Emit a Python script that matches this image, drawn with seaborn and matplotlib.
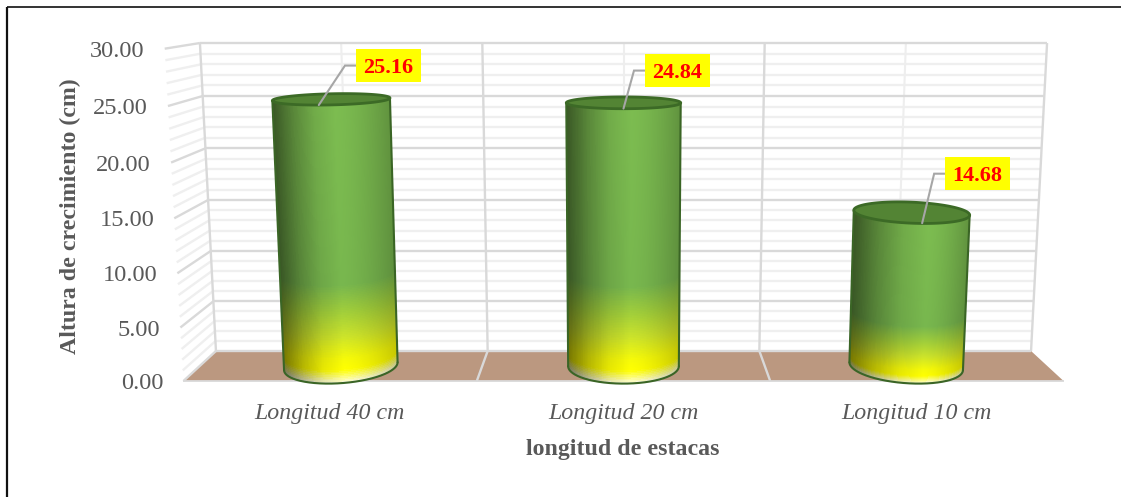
import numpy as np
import matplotlib
matplotlib.use("Agg")
import matplotlib.pyplot as plt
from matplotlib.colors import to_rgb
from matplotlib.patches import Polygon, Rectangle
import seaborn as sns

# Chart data
categories = ["Longitud 40 cm", "Longitud 20 cm", "Longitud 10 cm"]
heights = [25.16, 24.84, 14.68]
height_labels = ["25.16", "24.84", "14.68"]
y_ticks = [0, 5, 10, 15, 20, 25, 30]
y_title = "Altura de crecimiento (cm)"
x_title = "longitud de estacas"

sns.set_theme(style="white")
plt.rcParams["font.family"] = ["Liberation Serif", "DejaVu Serif"]

W, H = 1121, 497
Y_MAX = 30.0
TEXT_GREY = "#595959"
MAJOR = "#d9d9d9"
MINOR = "#efefef"

fig = plt.figure(figsize=(W / 100, H / 100), dpi=100, facecolor="white")
ax = fig.add_axes([0, 0, 1, 1])
ax.set_xlim(0, W)
ax.set_ylim(H, 0)
ax.axis("off")


def project(x, v, d):
    """Perspective view: x in category slots, v in data units, d from back wall (0) to front (1)."""
    x, v, d = np.asarray(x, float), np.asarray(v, float), np.asarray(d, float)
    w = 1 - 0.00126 * v - 0.0739 * d
    px = 623.5 + (x - 1.5) * 271.7 / w
    py = (351 - 10.32 * v + 1.85 * d) / w
    return px, py


def line3d(x, v, d, **kw):
    px, py = project(x, v, d)
    ax.plot(px, py, solid_capstyle="butt", solid_joinstyle="round", **kw)


# Outer frame of the chart area
ax.plot([6.5, 6.5], [H, 6.5], color="#111111", lw=1.6, solid_capstyle="butt")
ax.plot([6.5, W], [6.5, 6.5], color="#111111", lw=1.2, solid_capstyle="butt")

# Floor
fx, fy = project([0, 3, 3, 0], [0, 0, 0, 0], [0, 0, 1, 1])
ax.add_patch(Polygon(np.c_[fx, fy], closed=True, fc="#bb9880", ec="none", zorder=1))
line3d([0, 3], [0, 0], [1, 1], color=MAJOR, lw=1.3, zorder=1.5)

# Wall grid: one line per unit, heavier every five units
for v in range(0, 31):
    major = v % 5 == 0
    c, lw = (MAJOR, 1.7) if major else (MINOR, 1.7)
    z = 2.2 if major else 2
    line3d([0, 3], [v, v], [0, 0], color=c, lw=lw, zorder=z)
    line3d([0, 0], [v, v], [0, 1], color=c, lw=lw, zorder=z)

for x in (0.5, 1.5, 2.5):
    line3d([x, x], [0, Y_MAX], [0, 0], color="#eeeeee", lw=1.5, zorder=2.1)
for x in (0, 1, 2, 3):
    line3d([x, x], [0, Y_MAX], [0, 0], color=MAJOR, lw=1.7, zorder=2.3)
for x in (1, 2):
    line3d([x, x], [0, 0], [0, 1], color=MAJOR, lw=1.7, zorder=2.3)

# Value axis labels
for v in y_ticks:
    px, py = project(0, v, 1)
    ax.text(px - 20, py + 2.5, f"{v:.2f}", ha="right", va="center",
            fontsize=17.6, color=TEXT_GREY)

# Category labels and axis titles
for i, name in enumerate(categories):
    px, _ = project(i + 0.5, 0, 1)
    ax.text(px - 0.5, 414, name, ha="center", va="center", fontsize=17.2,
            style="italic", color=TEXT_GREY)
ax.text(623, 449, x_title, ha="center", va="center", fontsize=17.2,
        weight="bold", color=TEXT_GREY)
ax.text(70, 216.5, y_title, ha="center", va="center", rotation=90,
        fontsize=17.2, weight="bold", color=TEXT_GREY)

# Cylinder colouring: height ramp along the surface, horizontal light across it
ramp_pos = [0.0, 0.012, 0.05, 0.09, 0.17, 0.26, 0.36, 1.0]
ramp_col = np.array([to_rgb(c) for c in
                     ["#fbfbf0", "#fdfdb0", "#ffff00", "#f6fa08", "#cde42a", "#a2cf3a", "#78b74e", "#7cbc50"]])
shade_pal = np.array(sns.blend_palette(["#787878", "#b8b8b8", "#e8e8e8", "#ffffff"], n_colors=101))[:, 0]
RX, RD, DC = 0.196, 0.58, 0.5
light_centre = [0.53, 0.56, 0.64]
leader_start = [(-13, 6), (0, 6), (11, 11)]
label_offset = [(56.7, -33.5), (54, -32), (66.5, -38.5)]
BOX_W, BOX_H = 65, 33


def ramp(f):
    return np.stack([np.interp(f, ramp_pos, ramp_col[:, k]) for k in range(3)], axis=-1)


def shade(u, u0):
    left = shade_pal[np.clip((u / u0 * 100).astype(int), 0, 100)]
    right = 1 - 0.22 * ((u - u0) / (1 - u0)) ** 1.6
    return np.where(u < u0, left, right)


ANGLES = np.linspace(-0.7, np.pi + 0.7, 361)

for i, h in enumerate(heights):
    xc = i + 0.5
    levels = np.linspace(0, h, 161)
    cols = 181
    X, Y, U = [], [], []
    for v in levels:
        px, py = project(xc + RX * np.cos(ANGLES), v, DC + RD * np.sin(ANGLES))
        a, b = ANGLES[np.argmax(px)], ANGLES[np.argmin(px)]
        th = np.linspace(a, b, cols)
        qx, qy = project(xc + RX * np.cos(th), v, DC + RD * np.sin(th))
        X.append(qx)
        Y.append(qy)
        U.append((qx - qx.min()) / (qx.max() - qx.min()))
    X, Y, U = np.array(X), np.array(Y), np.array(U)
    F = (levels / h)[:, None] * np.ones((1, cols))
    cell_u = 0.25 * (U[:-1, :-1] + U[1:, :-1] + U[:-1, 1:] + U[1:, 1:])
    cell_f = 0.5 * (F[:-1, :-1] + F[1:, :-1])
    rgb = ramp(cell_f) * shade(cell_u, light_centre[i])[..., None]
    ax.pcolormesh(X, Y, np.clip(rgb, 0, 1), shading="flat", antialiased=False,
                  edgecolors="none", rasterized=True, zorder=3)

    # Body outline: both silhouettes and the front of the base
    outline = "#3a6525"
    ax.plot(X[0], Y[0], color=outline, lw=1.5, zorder=4)
    ax.plot(X[:, 0], Y[:, 0], color=outline, lw=1.5, zorder=4)
    ax.plot(X[:, -1], Y[:, -1], color=outline, lw=1.5, zorder=4)

    # Open top of the cylinder
    th = np.linspace(0, 2 * np.pi, 181)
    tx, ty = project(xc + RX * np.cos(th), h, DC + RD * np.sin(th))
    ax.add_patch(Polygon(np.c_[tx, ty], closed=True, fc="#538434", ec="#3c6a26",
                         lw=2.0, zorder=4.5))

    # Value label with its leader line
    cx, cy = project(xc, h, DC)
    bx, by = cx + label_offset[i][0], cy + label_offset[i][1]
    sx, sy = cx + leader_start[i][0], cy + leader_start[i][1]
    ax.plot([sx, bx - BOX_W / 2 - 11, bx - BOX_W / 2], [sy, by, by],
            color="#a6a6a6", lw=1.5, zorder=5, solid_joinstyle="miter")
    ax.add_patch(Rectangle((bx - BOX_W / 2, by - BOX_H / 2), BOX_W, BOX_H,
                           fc="#ffff00", ec="none", zorder=6))
    ax.text(bx, by + 2, height_labels[i], ha="center", va="center", fontsize=16,
            weight="bold", color="#ff0000", zorder=7)

fig.savefig("out.png", dpi=100, facecolor="white")
